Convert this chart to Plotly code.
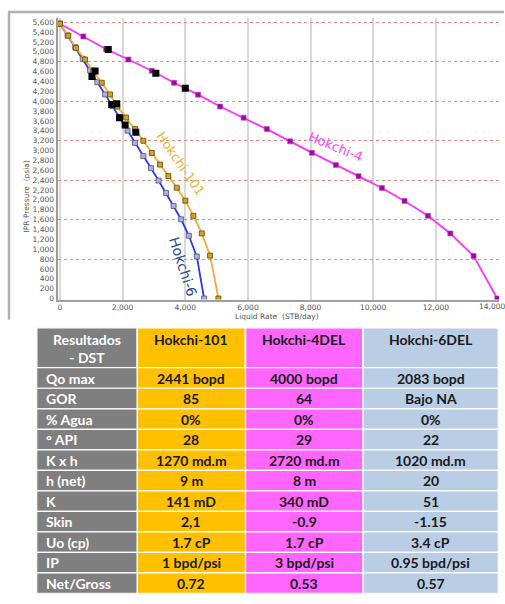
import plotly.graph_objects as go

# ---------------- IPR curve data ----------------
h4_q = [0, 744, 1470, 2182, 2930, 3642, 4409, 5112, 5863, 6604, 7348, 8042, 8809, 9531, 10278, 11000, 11748, 12461, 13205, 13962]
h4_p = [5570, 5313, 5059, 4844, 4616, 4374, 4133, 3891, 3666, 3434, 3186, 2954, 2709, 2481, 2240, 1978, 1676, 1319, 862, 0]

h101_q = [0, 265, 511, 799, 1064, 1332, 1598, 1831, 2109, 2396, 2661, 2930, 3195, 3460, 3729, 4003, 4259, 4527, 4792, 5058]
h101_p = [5570, 5327, 5079, 4844, 4608, 4374, 4137, 3891, 3669, 3434, 3198, 2951, 2715, 2481, 2246, 1984, 1676, 1319, 870, 0]

h6_q = [0, 243, 486, 725, 959, 1192, 1438, 1671, 1917, 2157, 2396, 2661, 2907, 3147, 3387, 3626, 3866, 4115, 4368, 4601]
h6_p = [5570, 5333, 5095, 4858, 4628, 4386, 4138, 3902, 3669, 3403, 3155, 2890, 2642, 2392, 2138, 1876, 1606, 1272, 851, 0]

test_q = [1540, 3060, 4000, 1120, 1020, 1650, 1810, 1900, 2080, 2420]
test_p = [5050, 4565, 4260, 4610, 4500, 3935, 3950, 3665, 3515, 3370]

curve_labels = ["Hokchi-4", "Hokchi-101", "Hokchi-6"]
label_q = [8780, 3850, 3930]
label_p = [3080, 2740, 640]

x_tickvals = [0, 2000, 4000, 6000, 8000, 10000, 12000, 14000]
y_tickvals = list(range(0, 5601, 200))

# ---------------- Table data ----------------
table_header = ["Resultados<br>- DST", "Hokchi-101", "Hokchi-4DEL", "Hokchi-6DEL"]
row_labels = ["Qo max", "GOR", "% Agua", "° API", "K x h", "h (net)", "K", "Skin", "Uo (cp)", "IP", "Net/Gross"]
col_101 = ["2441 bopd", "85", "0%", "28", "1270 md.m", "9 m", "141 mD", "2,1", "1.7 cP", "1 bpd/psi", "0.72"]
col_4del = ["4000 bopd", "64", "0%", "29", "2720 md.m", "8 m", "340 mD", "-0.9", "1.7 cP", "3 bpd/psi", "0.53"]
col_6del = ["2083 bopd", "Bajo NA", "0%", "22", "1020 md.m", "20", "51", "-1.15", "3.4 cP", "0.95 bpd/psi", "0.57"]

# ---------------- style / layout constants ----------------
W, H = 505, 604
def px(x): return x / W
def py(y): return 1 - y / H

col_widths = [100.6, 108.2, 117.5, 135.3]
col_fills = ["#7f7f7f", "#ffc000", "#ff66ff", "#b9cde5"]
header_h = 40.2
row_h = 20.65

fig = go.Figure()

fig.add_trace(go.Scatter(x=h4_q, y=h4_p, mode="lines+markers", name="Hokchi-4",
                         line=dict(color="#ff33ff", width=1.8),
                         marker=dict(symbol="square", size=5, color="#9c0c9c",
                                     line=dict(color="#c040c0", width=0.6))))
fig.add_trace(go.Scatter(x=h6_q, y=h6_p, mode="lines+markers", name="Hokchi-6",
                         line=dict(color="#3535ee", width=1.8),
                         marker=dict(symbol="square", size=5, color="#aab2d6",
                                     line=dict(color="#4d5680", width=0.8))))
fig.add_trace(go.Scatter(x=h101_q, y=h101_p, mode="lines+markers", name="Hokchi-101",
                         line=dict(color="#f5ac35", width=1.8),
                         marker=dict(symbol="square", size=5, color="#d4a020",
                                     line=dict(color="#5c4a12", width=0.8))))
fig.add_trace(go.Scatter(x=test_q, y=test_p, mode="markers", name="test",
                         marker=dict(symbol="square", size=7, color="#000000")))
# dummy traces to activate the helper axes
fig.add_trace(go.Scatter(x=[0], y=[0], yaxis="y3", mode="markers",
                         marker=dict(opacity=0), hoverinfo="skip", showlegend=False))
fig.add_trace(go.Scatter(x=[0], y=[0], xaxis="x2", yaxis="y2", mode="markers",
                         marker=dict(opacity=0), hoverinfo="skip", showlegend=False))

tick_font = dict(family="DejaVu Sans", size=7.5, color="#555555")
x_range = [-80, 14016]
y_range = [-20, 5689]

fig.update_layout(
    width=W, height=H, autosize=False,
    margin=dict(l=0, r=0, t=0, b=0),
    paper_bgcolor="white", plot_bgcolor="white",
    showlegend=False,
    xaxis=dict(domain=[px(57.5), px(499)], range=x_range,
               tickmode="array", tickvals=x_tickvals,
               tickformat=",d", tickfont=tick_font, ticks="",
               showgrid=True, gridcolor="#d9d9d9", gridwidth=1.5,
               showline=True, linecolor="#a0a0a0", linewidth=1.5,
               zeroline=False, anchor="y"),
    yaxis=dict(domain=[py(301.5), py(18)], range=y_range,
               tickmode="array", tickvals=y_tickvals,
               tickformat=",d", tickfont=tick_font, ticks="",
               showgrid=False, showline=True, linecolor="#9a9a9a", linewidth=2,
               zeroline=False, anchor="x"),
    yaxis3=dict(overlaying="y", range=y_range, tickmode="linear", tick0=0, dtick=800,
                showgrid=True, gridcolor="#e88a8a", griddash="dot", gridwidth=1,
                showticklabels=False, showline=False, zeroline=False, anchor="x"),
    xaxis2=dict(domain=[px(36.7), px(498.3)], range=[0, sum(col_widths)],
                visible=False, anchor="y2", fixedrange=True),
    yaxis2=dict(domain=[py(597.4), py(330)], range=[header_h + row_h * len(row_labels), 0],
                visible=False, anchor="x2", fixedrange=True),
)

# last x tick label (the axis hides it at the page edge), nudged inside the page
fig.add_annotation(text=f"{x_tickvals[-1]:,}", x=x_tickvals[-1], xref="x", y=py(308.5), yref="paper",
                   xanchor="center", xshift=-7, showarrow=False, font=tick_font)

# frame around chart
fig.add_shape(type="line", xref="paper", yref="paper", x0=px(8), x1=px(504), y0=py(12), y1=py(12),
              line=dict(color="#b0b0b0", width=2.5))
fig.add_shape(type="line", xref="paper", yref="paper", x0=px(9), x1=px(9), y0=py(12), y1=py(322),
              line=dict(color="#b0b0b0", width=2.5))

# axis titles
fig.add_annotation(text="IPR Pressure  (psia)", xref="paper", yref="paper", x=px(20), y=py(160),
                   textangle=-90, showarrow=False, font=dict(family="DejaVu Sans", size=7.5, color="#555555"))
fig.add_annotation(text="Liquid Rate  (STB/day)", xref="paper", yref="paper", x=px(277), y=py(319),
                   showarrow=False, font=dict(family="DejaVu Sans", size=7.5, color="#555555"))

# curve labels
label_colors = ["#ff44ff", "#f2b232", "#2e4a8c"]
label_angles = [22, 55, 72]
label_sizes = [13, 13, 14]
for t, q, p, c, a, s in zip(curve_labels, label_q, label_p, label_colors, label_angles, label_sizes):
    fig.add_annotation(text=t, x=q, y=p, xref="x", yref="y", textangle=a, showarrow=False,
                       font=dict(family="DejaVu Sans", size=s, color=c))

# ---------------- table ----------------
col_edges = [0]
for w in col_widths:
    col_edges.append(col_edges[-1] + w)
columns = [row_labels, col_101, col_4del, col_6del]

tfont = "Lato"
for j in range(4):
    x0, x1 = col_edges[j], col_edges[j + 1]
    fig.add_shape(type="rect", xref="x2", yref="y2", x0=x0, x1=x1, y0=0, y1=header_h,
                  fillcolor=col_fills[j], line=dict(color="white", width=1.6), layer="above")
    txt_col = "white" if j == 0 else "#1a1a1a"
    fig.add_annotation(text="<b>" + table_header[j] + "</b>", xref="x2", yref="y2",
                       x=(x0 + x1) / 2, y=21 if j == 0 else 12, showarrow=False,
                       font=dict(family=tfont, size=14, color=txt_col))
    for i, val in enumerate(columns[j]):
        y0 = header_h + i * row_h
        y1 = y0 + row_h
        fig.add_shape(type="rect", xref="x2", yref="y2", x0=x0, x1=x1, y0=y0, y1=y1,
                      fillcolor=col_fills[j], line=dict(color="white", width=1.2), layer="above")
        if j == 0:
            fig.add_annotation(text="<b>" + val + "</b>", xref="x2", yref="y2",
                               x=x0 + 7.5, y=(y0 + y1) / 2, xanchor="left", showarrow=False,
                               font=dict(family=tfont, size=14, color=txt_col))
        else:
            fig.add_annotation(text="<b>" + val + "</b>", xref="x2", yref="y2",
                               x=(x0 + x1) / 2, y=(y0 + y1) / 2, showarrow=False,
                               font=dict(family=tfont, size=14, color=txt_col))

fig.write_html("out.html")
